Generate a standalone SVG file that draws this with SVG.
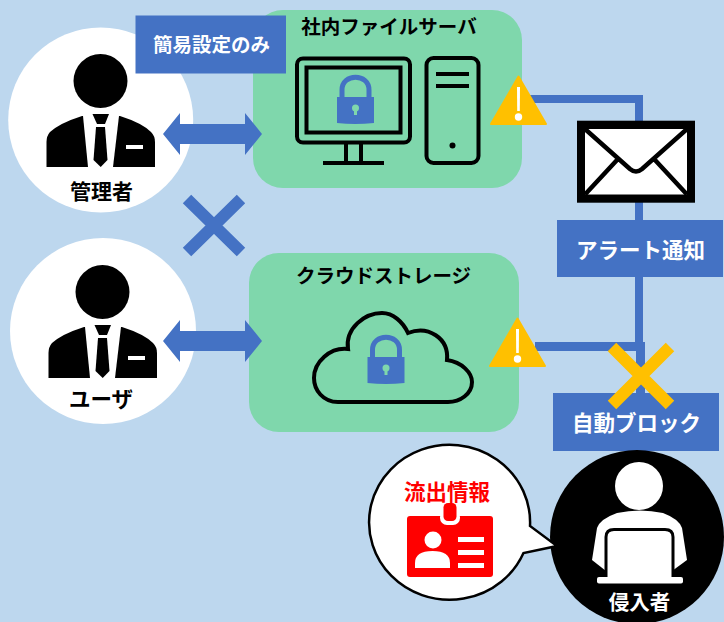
<svg xmlns="http://www.w3.org/2000/svg" xmlns:xlink="http://www.w3.org/1999/xlink" width="724" height="622" viewBox="0 0 724 622">
<style>
text{font-family:"Noto Sans CJK JP","Noto Sans",sans-serif;font-weight:700;text-anchor:middle}
.k{fill:#000}.w{fill:#fff}.b{fill:#4472C4}.g{fill:#7FD7AC}.y{fill:#FFC000}
.ln{fill:none;stroke:#000;stroke-width:4}
.wire{fill:none;stroke:#4472C4}
</style>
<defs>
<g id="person">
<circle cx="100.5" cy="81" r="27"/>
<path d="M83 116 L82 116 Q60 123 50 132 Q46.500 136 46.500 142 V167 H88 Z"/>
<path d="M119 116 L120 116 Q142 123 151 132 Q155 136 155 142 V167 H113 Z"/>
<path d="M92.500 114 H109 L105 124 H97 Z"/>
<path d="M96 127 H105 L107.500 160 L100.700 167 L93.500 160 Z"/>
<rect class="w" x="126" y="145" width="17" height="4"/>
</g>
<g id="lock">
<path d="M0 21 H37 V47 Q18 49 0 47 Z" class="b"/>
<path d="M5 21 V14 C5 -3 32 -3 32 14 V21" fill="none" stroke="#4472C4" stroke-width="5"/>
<circle cx="18.500" cy="32" r="3.500" class="g"/>
<rect x="17" y="33" width="3" height="6" class="g"/>
</g>
<g id="warn">
<path class="y" d="M28.500 1.500 L56 49 H1 Z" stroke="#FFC000" stroke-width="2" stroke-linejoin="round"/>
<path class="w" d="M27 12 H30 L29.800 36 H27.200 Z"/>
<circle class="w" cx="28.500" cy="42" r="3.700"/>
</g>
</defs>

<rect id="background" width="724" height="622" fill="#BDD7EE"/>

<g id="admin">
<circle class="w" cx="100.700" cy="120" r="92.500"/>
<use xlink:href="#person" href="#person"/>
<text x="101.500" y="199" font-size="21">管理者</text>
</g>

<g id="user">
<circle class="w" cx="103" cy="331" r="93"/>
<use xlink:href="#person" href="#person" x="2" y="211"/>
<text x="101" y="407" font-size="21.500">ユーザ</text>
</g>

<g id="file-server">
<rect class="g" x="253" y="10" width="269" height="178" rx="30"/>
<text x="389" y="34" font-size="19.500">社内ファイルサーバ</text>
<rect class="ln" x="297" y="58.500" width="113" height="84" rx="6"/>
<rect class="ln" x="306.500" y="67.500" width="94" height="65"/>
<path class="ln" d="M346 143 V163 M361 143 V163 M323 163 H384"/>
<rect class="ln" x="426.500" y="58" width="52" height="105" rx="7"/>
<path class="ln" d="M436 74 H469 M436 86 H469"/>
<circle class="k" cx="452.500" cy="145.500" r="3"/>
<use xlink:href="#lock" href="#lock" x="337" y="76"/>
</g>

<g id="cloud-storage">
<rect class="g" x="249" y="253" width="270" height="179" rx="30"/>
<text x="383.500" y="283" font-size="19.500">クラウドストレージ</text>
<path class="ln" stroke-width="3.500" d="M338 402 C323 402 314 390 314 378 C314 362 330 347 348 349 C345 328 365 313 382 313 C393 313 403 322 408 333 C428 325 449 338 447 360 C462 362 472 373 472 382 C472 394 460 402 448 402 Z"/>
<use xlink:href="#lock" href="#lock" x="367.500" y="336"/>
</g>

<g id="connectors">
<path class="wire" stroke-width="8" d="M525 99 H639 V345"/>
<path class="wire" stroke-width="9" d="M535 346.500 H640.500 V395"/>
<path class="b" d="M163 134 L180 113 V124 H245 V113 L262 134 L245 155 V144 H180 V155 Z"/>
<path class="b" d="M163 341 L180 320 V331 H245 V320 L262 341 L245 362 V351 H180 V362 Z"/>
</g>

<g id="deny-mark">
<path d="M187 199 L241 252 M241 199 L187 252" fill="none" stroke="#4472C4" stroke-width="12"/>
</g>

<g id="simple-settings">
<rect class="b" x="135.500" y="15.500" width="150.500" height="58"/>
<text class="w" x="211.500" y="52" font-size="19.500">簡易設定のみ</text>
</g>

<g id="warning-1"><use xlink:href="#warn" href="#warn" x="490" y="75"/></g>
<g id="warning-2"><use xlink:href="#warn" href="#warn" x="489" y="317"/></g>

<g id="mail">
<rect class="k" x="577" y="120.700" width="118" height="82"/>
<rect class="w" x="585" y="129" width="102" height="65.500"/>
<path d="M585 129 L630 169 Q636 174 642 169 L687 129 M585 194.500 L617 160 M687 194.500 L655 160" fill="none" stroke="#000" stroke-width="4.500"/>
</g>

<g id="alert-notice">
<rect class="b" x="557" y="220" width="166" height="57"/>
<text class="w" x="640.500" y="258" font-size="21.500">アラート通知</text>
</g>

<g id="auto-block">
<rect class="b" x="553" y="393" width="166" height="58"/>
<text class="w" x="636.500" y="431" font-size="21.500">自動ブロック</text>
</g>

<g id="block-mark">
<path d="M612 347 L670 405 M670 347 L612 405" fill="none" stroke="#FFC000" stroke-width="12"/>
</g>

<g id="intruder">
<circle class="k" cx="637" cy="537" r="87"/>
<circle class="w" cx="639" cy="486" r="24"/>
<path class="w" d="M592 560 L597 528 Q600 519 617 513 Q640 508 663 513 Q679 519 682 528 L687 560 L672 571 H606 Z"/>
<path class="w" d="M606 577 V537 Q606 529.500 614 529.500 H665 Q673 529.500 673 537 V577" stroke="#000" stroke-width="3"/>
<rect class="w" x="597" y="577" width="86" height="6.500" rx="2"/>
<text class="w" x="639.500" y="610" font-size="20.500">侵入者</text>
</g>

<g id="leak-bubble">
<path class="w" stroke="#000" stroke-width="2.500" d="M530 526 A80.500 77.500 0 1 0 523.500 553 L557 546 Z"/>
<text x="447" y="500" font-size="21.500" fill="#FF0000">流出情報</text>
<rect x="407" y="516" width="86" height="61" rx="3" fill="#FF0000"/>
<rect class="w" x="440" y="510" width="20" height="15" rx="7"/>
<rect x="443.500" y="503" width="13" height="18" rx="4.500" fill="#FF0000"/>
<circle class="w" cx="433" cy="540" r="8.500"/>
<path class="w" d="M415 568 V563 Q415 551 432.500 551 Q450 551 450 563 V568 Z"/>
<path class="w" d="M458 537 H484 V542 H458 Z M458 550 H484 V555 H458 Z M458 563 H484 V568 H458 Z"/>
</g>
</svg>
